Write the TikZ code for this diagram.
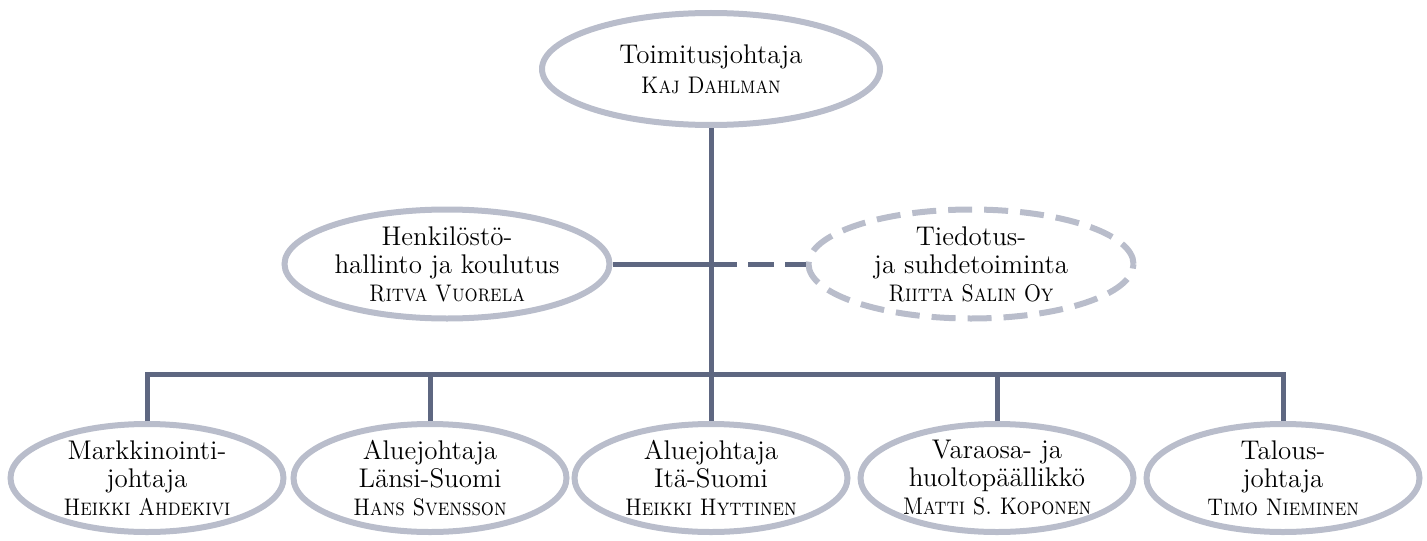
\documentclass[tikz,border=0pt]{standalone}
\usepackage{tikz}
\usetikzlibrary{shapes,positioning,calc}
\definecolor{rim}{HTML}{B9BDCB}
\definecolor{wire}{HTML}{5E6781}
\newcommand{\who}[1]{\scalebox{0.86}[1]{\fontsize{12}{14}\selectfont\textsc{#1}}}

\begin{document}
\begin{tikzpicture}[x = 0.5pt, y = -0.5pt,
  unit/.style = {ellipse, draw = rim, line width = 3pt, inner sep = 0pt},
  boss/.style = {unit, minimum width = 169pt, minimum height = 56pt},
  staff/.style = {unit, minimum width = 162.5pt, minimum height = 54.5pt},
  dept/.style = {unit, minimum width = 136.5pt, minimum height = 54pt},
  txt/.style = {align = center, font = \fontsize{13.5}{14}\selectfont},
  link/.style = {draw = wire, line width = 2.5pt}]
\useasboundingbox (0,0) rectangle (1427,540);
\node[boss] (ceo) at (711,69) {};
\node[txt] at (ceo) {Toimitusjohtaja\\[1pt]\who{Kaj Dahlman}};
\node[staff] (hr) at (447,264) {};
\node[txt] at (hr) {Henkilöstö-\\hallinto ja koulutus\\\who{Ritva Vuorela}};
\node[staff, dash pattern = on 12pt off 6pt] (pr) at (971,264) {};
\node[txt] at (pr) {Tiedotus-\\ja suhdetoiminta\\\who{Riitta Salin Oy}};
\node[dept] (m1) at (147,478) {};
\node[txt] at (m1) {Markkinointi-\\johtaja\\\who{Heikki Ahdekivi}};
\node[dept] (m2) at (430,478) {};
\node[txt] at (m2) {Aluejohtaja\\Länsi-Suomi\\\who{Hans Svensson}};
\node[dept] (m3) at (711,478) {};
\node[txt] at (m3) {Aluejohtaja\\Itä-Suomi\\\who{Heikki Hyttinen}};
\node[dept] (m4) at (997,478) {};
\node[txt] at (m4) {Varaosa- ja\\huoltopäällikkö\\\who{Matti S. Koponen}};
\node[dept] (m5) at (1283,478) {};
\node[txt] at (m5) {Talous-\\johtaja\\\who{Timo Nieminen}};
\coordinate (bus) at (711,374);
\draw[link] (ceo) -- (m3);
\draw[link] (hr) -- (hr.east -| ceo.south);
\draw[link, dash pattern = on 13pt off 5.5pt] (hr.east -| ceo.south) -- (pr);
\draw[link] (m1) |- (bus) -| (m5);
\draw[link] (m2) -- (m2 |- bus);
\draw[link] (m4) -- (m4 |- bus);
\end{tikzpicture}
\end{document}
